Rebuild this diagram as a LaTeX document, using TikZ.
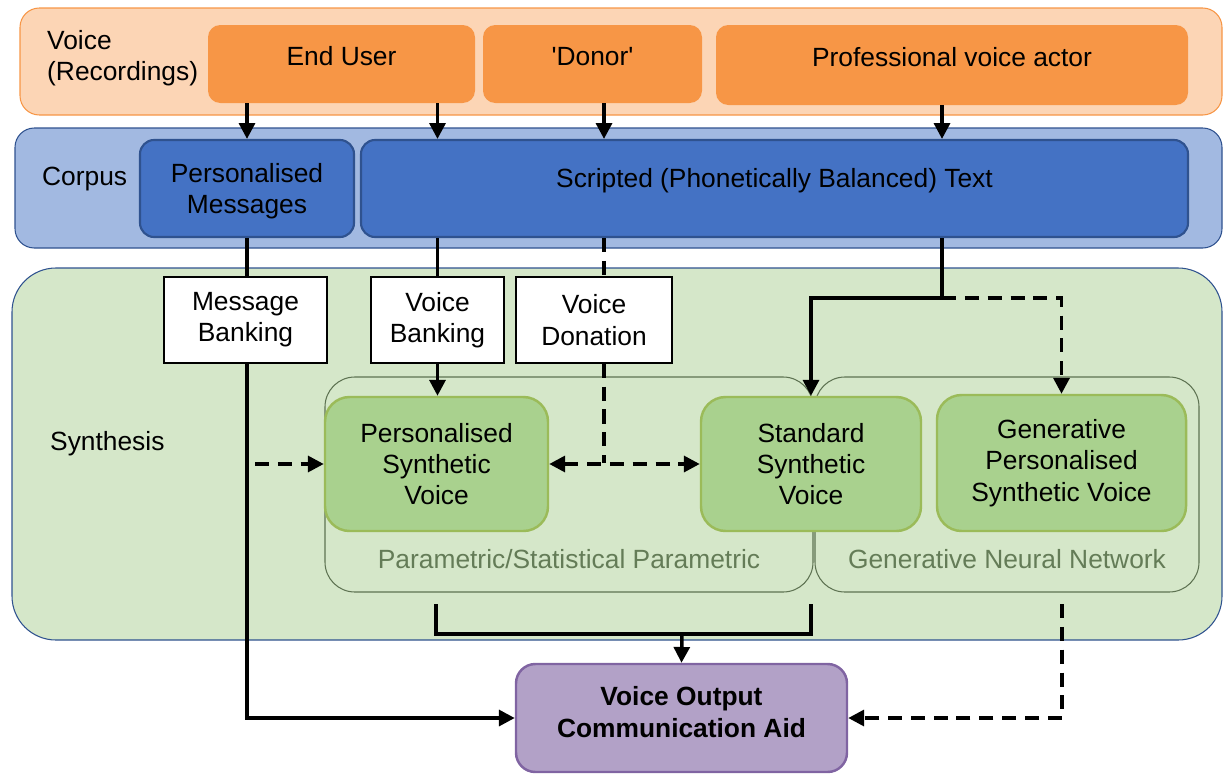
\documentclass[tikz,border=0pt]{standalone}
\usepackage{fontspec}
\setmainfont{Liberation Sans}
\usetikzlibrary{arrows.meta,positioning,fit}

\definecolor{bandorange}{HTML}{FCD5B5}
\definecolor{lineorange}{HTML}{F79646}
\definecolor{bandblue}{HTML}{A2B9E1}
\definecolor{boxblue}{HTML}{4472C4}
\definecolor{lineblue}{HTML}{2F528F}
\definecolor{bandgreen}{HTML}{D5E7C9}
\definecolor{boxgreen}{HTML}{A9D18E}
\definecolor{linegreen}{HTML}{9BBB59}
\definecolor{groupgrey}{HTML}{5E7352}
\definecolor{grouptext}{HTML}{647C57}
\definecolor{boxpurple}{HTML}{B2A1C7}
\definecolor{linepurple}{HTML}{8064A2}

\begin{document}
\begin{tikzpicture}[
			x=0.02cm, y=-0.02cm,
			>={Triangle[length=9pt,width=9pt]},
			every node/.style={font=\fontsize{15}{17.8}\selectfont},
			boxsize/.style 2 args={minimum width=#1*0.02cm, minimum height=#2*0.02cm, inner sep=0pt},
			band/.style={draw, line width=0.6pt, inner sep=0pt},
			source/.style={fill=lineorange, rounded corners=7pt, text height=11pt, text depth=9.5pt},
			corpus/.style={draw=lineblue, fill=boxblue, line width=1.2pt, rounded corners=8pt, align=center},
			method/.style={draw, fill=white, line width=0.9pt, align=center},
			group/.style={draw=groupgrey, line width=0.6pt, rounded corners=17pt, inner sep=0pt},
			voice/.style={draw=linegreen, fill=boxgreen, line width=1.4pt, rounded corners=14pt, align=center},
			aid/.style={draw=linepurple, fill=boxpurple, line width=1.4pt, rounded corners=11pt, align=center, text depth=7pt, font=\fontsize{15}{17.8}\selectfont\bfseries},
			conn/.style={line width=2pt},
			dconn/.style={line width=2pt, dash pattern=on 8pt off 5pt}
		]
		\useasboundingbox (0,0) rectangle (1226,774);

		\node[band, draw=lineorange, fill=bandorange, rounded corners=11pt, fit={(20,8) (1222,115)}] (voiceband) {};
		\node[band, draw=lineblue, fill=bandblue, rounded corners=11pt, fit={(15,128) (1222,248)}] (corpusband) {};
		\node[band, draw=lineblue, fill=bandgreen, rounded corners=25pt, fit={(12,268) (1222,640)}] (synthband) {};

		\node[anchor=west, align=left] (voicelbl) at (41,58) {Voice\\(Recordings)};
		\node[anchor=west] (corpuslbl) at (36,179) {Corpus};
		\node[anchor=west] (synthlbl) at (44,444) {Synthesis};

		\node[source, boxsize={267}{78}] (enduser) at (341.5,64) {End User};
		\node[source, boxsize={219}{78}] (donor) at (592.5,64) {\textquotesingle Donor\textquotesingle};
		\node[source, boxsize={472}{80}] (actor) at (952,65) {Professional voice actor};

		\node[corpus, boxsize={214}{97}, text height=32pt] (pmsg) at (247,188.5) {Personalised\\Messages};
		\node[corpus, boxsize={827}{97}, text height=11pt, text depth=12pt] (scripted) at (774.5,188.5) {Scripted (Phonetically Balanced) Text};

		\node[method, boxsize={163}{86}] (mbank) at (245.5,320) {Message\\Banking};
		\node[method, boxsize={133}{86}] (vbank) at (437.5,320) {Voice\\Banking};
		\node[method, boxsize={156}{86}] (vdon) at (594,320) {Voice\\Donation};

		\node[group, fit={(325,377) (813,592)}] (param) {};
		\node[group, fit={(815,377) (1199,592)}] (neural) {};
		\node[text=grouptext] (paramtxt) at (569,559) {Parametric/Statistical Parametric};
		\node[text=grouptext] (neuraltxt) at (1007,559) {Generative Neural Network};

		\node[voice, boxsize={223}{134}] (psv) at (436.5,464) {Personalised\\Synthetic\\Voice};
		\node[voice, boxsize={220}{134}] (ssv) at (811,464) {Standard\\Synthetic\\Voice};
		\node[voice, boxsize={249}{136}] (gpsv) at (1061.5,463) {Generative\\Personalised\\Synthetic Voice};

		\node[aid, boxsize={331}{108}] (voca) at (681.5,718) {Voice Output\\Communication Aid};

		\coordinate (split) at (942,298);
		\coordinate (donj) at (604,463);
		\coordinate (msgj) at (255,464);
		\coordinate (pbot) at (436,604);
		\coordinate (sbot) at (811,604);
		\coordinate (gbot) at (1062,604);
		\coordinate (join) at (682,634);

		\draw[conn,->] (enduser.south -| pmsg) -- (pmsg.north);
		\draw[conn,->] (enduser.south -| vbank) -- (scripted.north -| vbank);
		\draw[conn,->] (donor.south -| donj) -- (scripted.north -| donj);
		\draw[conn,->] (actor.south -| split) -- (scripted.north -| split);

		\draw[conn] (pmsg.south) -- (mbank.north -| pmsg.south);
		\draw[conn,->] (mbank.south -| pmsg.south) |- (voca.west);
		\draw[dconn,->] (msgj) -- (psv.west);

		\draw[conn] (scripted.south -| vbank) -- (vbank.north);
		\draw[conn,->] (vbank.south) -- (vbank.south |- psv.north);

		\draw[dconn] (scripted.south -| donj) -- (vdon.north -| donj);
		\draw[dconn] (vdon.south -| donj) -- (donj);
		\draw[dconn,<->] (psv.east) -- (ssv.west);

		\draw[conn,->] (scripted.south -| split) -- (split) -| (ssv.north);
		\draw[dconn,->] (split) -| (gpsv.north);

		\draw[conn] (pbot) |- (join) -| (sbot);
		\draw[conn,->] (join) -- (voca.north);
		\draw[dconn,->] (gbot) |- (voca.east);
	\end{tikzpicture}
\end{document}
